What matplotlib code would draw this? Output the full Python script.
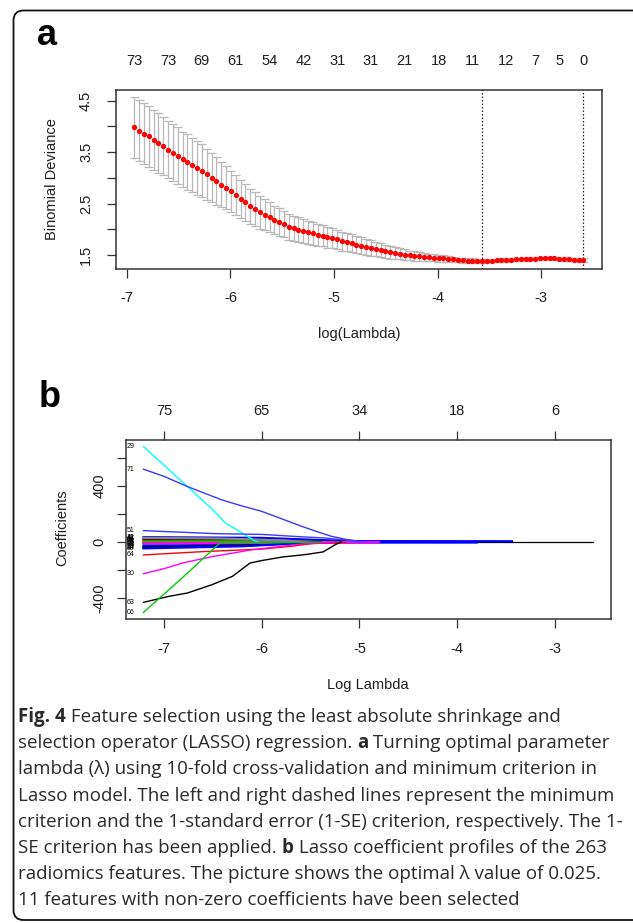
import matplotlib.pyplot as plt
import matplotlib.patches as mpatches
import numpy as np

# ---- panel a: 10-fold CV binomial deviance ----
log_lambda = [-6.930, -6.883, -6.837, -6.790, -6.743, -6.697, -6.650, -6.603, -6.557, -6.510,
              -6.463, -6.417, -6.370, -6.323, -6.277, -6.230, -6.183, -6.137, -6.090, -6.043,
              -5.997, -5.950, -5.903, -5.857, -5.810, -5.763, -5.717, -5.670, -5.623, -5.577,
              -5.530, -5.483, -5.437, -5.390, -5.343, -5.297, -5.250, -5.203, -5.157, -5.110,
              -5.063, -5.017, -4.970, -4.923, -4.877, -4.830, -4.783, -4.737, -4.690, -4.643,
              -4.597, -4.550, -4.503, -4.457, -4.410, -4.363, -4.317, -4.270, -4.223, -4.177,
              -4.130, -4.083, -4.037, -3.990, -3.943, -3.897, -3.850, -3.803, -3.757, -3.710,
              -3.663, -3.617, -3.570, -3.523, -3.477, -3.430, -3.383, -3.337, -3.290, -3.243,
              -3.197, -3.150, -3.103, -3.057, -3.010, -2.963, -2.917, -2.870, -2.823, -2.777,
              -2.730, -2.683, -2.637, -2.590]
cv_mean = [3.98, 3.92, 3.86, 3.81, 3.74, 3.68, 3.62, 3.55, 3.49, 3.43,
           3.36, 3.31, 3.25, 3.19, 3.14, 3.07, 3.00, 2.94, 2.87, 2.81,
           2.74, 2.66, 2.59, 2.52, 2.45, 2.39, 2.33, 2.28, 2.23, 2.18,
           2.14, 2.10, 2.05, 2.02, 1.99, 1.97, 1.94, 1.92, 1.89, 1.87,
           1.84, 1.82, 1.80, 1.77, 1.75, 1.73, 1.70, 1.68, 1.66, 1.63,
           1.61, 1.59, 1.57, 1.55, 1.535, 1.52, 1.505, 1.49, 1.48, 1.47,
           1.46, 1.45, 1.445, 1.435, 1.43, 1.42, 1.41, 1.40, 1.395, 1.39,
           1.39, 1.385, 1.385, 1.39, 1.39, 1.395, 1.40, 1.40, 1.405, 1.41,
           1.415, 1.42, 1.425, 1.425, 1.43, 1.43, 1.43, 1.43, 1.425, 1.42,
           1.41, 1.405, 1.40, 1.40]
cv_se = [0.60, 0.60, 0.59, 0.59, 0.58, 0.58, 0.57, 0.56, 0.56, 0.55,
         0.54, 0.54, 0.53, 0.52, 0.51, 0.50, 0.48, 0.46, 0.44, 0.42,
         0.40, 0.39, 0.37, 0.36, 0.34, 0.33, 0.32, 0.30, 0.29, 0.28,
         0.27, 0.26, 0.255, 0.245, 0.24, 0.23, 0.225, 0.22, 0.21, 0.205,
         0.20, 0.195, 0.19, 0.185, 0.18, 0.175, 0.17, 0.16, 0.155, 0.15,
         0.14, 0.135, 0.13, 0.125, 0.12, 0.11, 0.10, 0.095, 0.09, 0.085,
         0.08, 0.075, 0.07, 0.065, 0.06, 0.055, 0.05, 0.048, 0.045, 0.042,
         0.04, 0.038, 0.035, 0.03, 0.03, 0.03, 0.03, 0.03, 0.03, 0.03,
         0.03, 0.03, 0.03, 0.03, 0.03, 0.03, 0.03, 0.03, 0.03, 0.03,
         0.03, 0.03, 0.03, 0.03]
idx_min, idx_1se = 72, 93
nz_index = [0, 7, 14, 21, 28, 35, 42, 49, 56, 63, 70, 77, 83, 88, 93]
nz_labels = ["73", "73", "69", "61", "54", "42", "31", "31", "21", "18", "11", "12", "7", "5", "0"]

# ---- panel b: coefficient paths ----
b_top_pos = [-7, -6, -5, -4, -3]
b_top_labels = ["75", "65", "34", "18", "6"]

big_x = [
    [-7.21, -6.95, -6.76, -6.51, -6.37, -6.20, -6.07, -6.03],                       # 29
    [-7.21, -7.0, -6.76, -6.41, -6.2, -6.0, -5.79, -5.6, -5.44, -5.29, -5.13, -5.0],  # 71
    [-7.21, -6.46, -6.0, -5.6, -5.37, -5.1, -5.0],                                    # 51
    [-7.21, -6.6, -6.0, -5.7, -5.5, -5.3, -5.15],                                     # 64
    [-7.21, -7.0, -6.8, -6.5, -6.1, -5.8, -5.6, -5.4, -5.27],                         # 30
    [-7.21, -6.95, -6.76, -6.51, -6.3, -6.12, -6.0, -5.79, -5.54, -5.37, -5.25, -5.19],  # 63
    [-7.21, -6.82, -6.43, -6.3, -5.8, -5.4],                                          # 06
]
big_y = [
    [683, 518, 397, 238, 136, 64, 8, 0],
    [521, 470, 397, 302, 258, 220, 165, 115, 76, 42, 18, 5],
    [82, 60, 55, 38, 30, 12, 5],
    [-92, -68, -50, -30, -12, -4, 0],
    [-226, -190, -148, -103, -55, -30, -14, -5, 0],
    [-431, -388, -364, -305, -245, -150, -132, -107, -88, -70, -19, 0],
    [-503, -260, -8, -5, -4, 0],
]
big_labels = ["29", "71", "51", "64", "30", "63", "06"]

small_x = [
    [-7.21, -6.0, -5.3, -5.0, -3.44],
    [-7.21, -6.3, -5.6, -5.4],
    [-7.21, -6.5, -6.0, -5.5, -5.3],
    [-7.21, -6.6, -6.0, -5.5, -5.3],
    [-7.21, -6.5, -5.8, -5.4],
    [-7.21, -6.5, -6.0, -5.6],
    [-7.21, -6.5, -5.5, -5.2, -3.8],
    [-7.21, -6.8, -6.0, -5.6, -5.4],
    [-7.21, -6.0, -5.2, -5.05],
    [-7.21, -6.2, -5.5, -5.0],
    [-7.21, -6.0, -5.0, -4.8],
    [-7.21, -6.4, -5.8, -5.5],
    [-7.21, -6.2, -5.4],
]
small_y = [
    [35, 30, 12, 7, 6],
    [28, 20, 6, 0],
    [20, 15, 10, 3, 0],
    [-15, -10, -8, -3, 0],
    [10, 6, 3, 0],
    [-35, -25, -15, 0],
    [-28, -20, -6, -3, -3],
    [-40, -34, -20, -5, 0],
    [-6, -4, -2, 0],
    [4, 3, 1, 0],
    [-10, -6, -2, 0],
    [30, 25, 12, 0],
    [-45, -30, 0],
]
small_labels = ["12", "47", "05", "33", "78", "21", "90", "14", "56", "02", "69", "41", "88"]
zero_x = [-7.21, -2.61]

# caption lines as (text, bold) pieces
caption = [
    [("Fig. 4", True), (" Feature selection using the least absolute shrinkage and", False)],
    [("selection operator (LASSO) regression. ", False), ("a", True),
     (" Turning optimal parameter", False)],
    [("lambda (\u03bb) using 10-fold cross-validation and minimum criterion in", False)],
    [("Lasso model. The left and right dashed lines represent the minimum", False)],
    [("criterion and the 1-standard error (1-SE) criterion, respectively. The 1-", False)],
    [("SE criterion has been applied. ", False), ("b", True),
     (" Lasso coefficient profiles of the 263", False)],
    [("radiomics features. The picture shows the optimal \u03bb value of 0.025.", False)],
    [("11 features with non-zero coefficients have been selected", False)],
]

# ---- style ----
plt.rcParams["font.family"] = ["Liberation Sans", "DejaVu Sans"]
ink = "#1e1e1e"
box_col = "#333333"
bar_col = "#b8b8b8"
big_cols = ["#00ffff", "#3a3aff", "#3a3aff", "#ff0000", "#ff00ff", "#000000", "#00cd00"]
pal = ["#0000ff", "#ff00ff", "#000000", "#00cd00", "#ff0000", "#00ffff", "#0000ff",
       "#000000", "#ff0000", "#00cd00", "#ff00ff", "#888888", "#0000ff"]

W, H = 633, 923
fig = plt.figure(figsize=(W / 100, H / 100), dpi=100)


def fx(px):
    return px / W


def fy(py):
    return 1 - py / H


# rounded frame around the figure
bg = fig.add_axes([0, 0, 1, 1], zorder=-5)
bg.set_xlim(0, W)
bg.set_ylim(H, 0)
bg.axis("off")
bg.add_patch(mpatches.FancyBboxPatch((13.5, 10.5), 650, 909.5,
                                     boxstyle="round,pad=0,rounding_size=10",
                                     fill=False, lw=1.3, ec="#111111"))


def style_axes(ax):
    for s in ax.spines.values():
        s.set_color(box_col)
        s.set_linewidth(1.1)
    ax.tick_params(direction="out", length=6.5, width=0.9, color=box_col,
                   labelsize=10.5, labelcolor=ink)


# ---- panel a ----
axa = fig.add_axes([fx(116), fy(269), (602 - 116) / W, (269 - 90) / H])
style_axes(axa)
x = np.array(log_lambda)
m = np.array(cv_mean)
se = np.array(cv_se)
barw = 0.01 * (x.max() - x.min())
axa.vlines(x, m - se, m + se, color=bar_col, lw=0.9, zorder=1)
axa.hlines(m + se, x - barw, x + barw, color=bar_col, lw=0.9, zorder=1)
axa.hlines(m - se, x - barw, x + barw, color=bar_col, lw=0.9, zorder=1)
axa.plot(x, m, "o", color="#ff0000", ms=3.8, mec="none", zorder=3)
for i in (idx_min, idx_1se):
    axa.axvline(x[i], color="#222222", lw=0.9, ls=(0, (1.2, 1.6)), zorder=2)
axa.set_xlim(-7.106, -2.411)
axa.set_ylim(1.225, 4.71)
axa.set_xticks([-7, -6, -5, -4, -3])
axa.set_xticklabels(["-7", "-6", "-5", "-4", "-3"])
axa.set_yticks([1.5, 2.0, 2.5, 3.0, 3.5, 4.0, 4.5])
axa.set_yticklabels(["1.5", "", "2.5", "", "3.5", "", "4.5"], rotation=90, va="center")
axa.tick_params(axis="x", pad=9)
axa.tick_params(axis="y", pad=10)
topa = axa.secondary_xaxis("top")
topa.set_xticks([x[i] for i in nz_index], labels=nz_labels)
topa.tick_params(length=0, pad=16, labelsize=10.5, labelcolor=ink)
topa.spines["top"].set_visible(False)

fig.text(fx(52.5), fy(179.5), "Binomial Deviance", rotation=90, ha="center", va="center",
         fontsize=10.5, color=ink)
fig.text(fx(359), fy(334), "log(Lambda)", ha="center", va="center", fontsize=10.5, color=ink)
fig.text(fx(37), fy(45), "a", fontsize=26, fontweight="bold", color="#000000",
         ha="left", va="baseline")

# ---- panel b ----
axb = fig.add_axes([fx(125.5), fy(619), (611 - 125.5) / W, (619 - 440) / H])
style_axes(axb)
axb.plot(zero_x, [0, 0], color="#000000", lw=0.9, zorder=1)
for xs, ys, c in zip(small_x, small_y, pal):
    axb.plot(xs, ys, color=c, lw=1.6, zorder=2)
for xs, ys, c in zip(big_x, big_y, big_cols):
    axb.plot(xs, ys, color=c, lw=1.0, zorder=3)
for ys, lab in zip(small_y, small_labels):
    axb.text(-7.30, ys[0], lab, fontsize=5, ha="right", va="center", color="#000000")
for ys, lab in zip(big_y, big_labels):
    axb.text(-7.30, ys[0], lab, fontsize=5, ha="right", va="center", color="#000000")
axb.set_xlim(-7.394, -2.426)
axb.set_ylim(-550, 730)
axb.set_xticks([-7, -6, -5, -4, -3])
axb.set_xticklabels(["-7", "-6", "-5", "-4", "-3"])
axb.set_yticks([-400, -200, 0, 200, 400, 600])
axb.set_yticklabels(["-400", "", "0", "", "400", ""], rotation=90, va="center")
axb.tick_params(axis="x", pad=10)
axb.tick_params(axis="y", pad=7)
topb = axb.secondary_xaxis("top")
topb.set_xticks(b_top_pos, labels=b_top_labels)
topb.tick_params(direction="out", length=6.5, width=0.9, color=box_col, pad=9,
                 labelsize=10.5, labelcolor=ink)
topb.spines["top"].set_visible(False)

fig.text(fx(62.6), fy(528), "Coefficients", rotation=90, ha="center", va="center",
         fontsize=10.5, color=ink)
fig.text(fx(368), fy(685), "Log Lambda", ha="center", va="center", fontsize=10.5, color=ink)
fig.text(fx(39), fy(407), "b", fontsize=26, fontweight="bold", color="#000000",
         ha="left", va="baseline")

# ---- caption: pieces laid out one after another, measured with the renderer ----
renderer = fig.canvas.get_renderer()
for k, pieces in enumerate(caption):
    xpos = 18.0
    ypos = 722 + k * 26.2
    for txt, bold in pieces:
        t = fig.text(fx(xpos), fy(ypos), txt, family=["Open Sans", "DejaVu Sans"],
                     fontsize=13.5, fontweight="bold" if bold else "normal",
                     color="#2a2a2a", ha="left", va="baseline")
        xpos += t.get_window_extent(renderer).width

fig.savefig("out.png", dpi=100)
